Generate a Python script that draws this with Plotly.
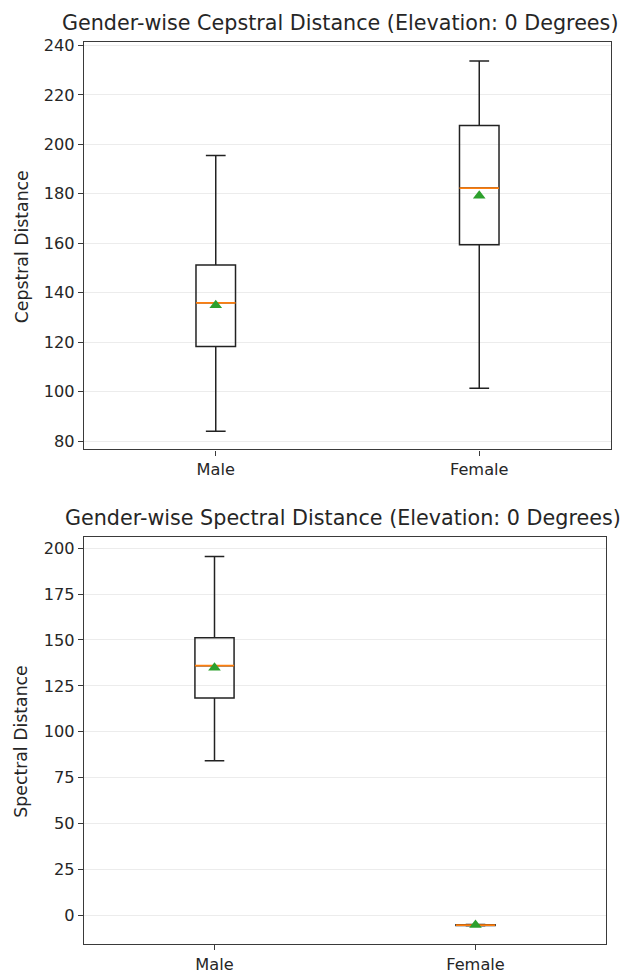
import plotly.graph_objects as go

genders = ["Male", "Female"]
positions = [1, 2]

# Cepstral distance (top)
cep_low = [84.0, 101.4]
cep_q1 = [118.2, 159.4]
cep_med = [135.9, 182.3]
cep_q3 = [151.2, 207.6]
cep_high = [195.5, 233.7]
cep_mean = [134.9, 179.2]

# Spectral distance (bottom)
spec_low = [84.2, -5.7]
spec_q1 = [118.4, -5.5]
spec_med = [136.0, -5.3]
spec_q3 = [151.2, -5.1]
spec_high = [195.4, -4.9]
spec_mean = [134.8, -5.3]

W, H = 633, 976
BOX_W = 0.15
FONT = "DejaVu Sans"
TXT = "#262626"
AX = "#3a3a3a"
TICK_SIZE = 16.2
LABEL_SIZE = 17.3
TITLE_SIZE = 20.7

fig = go.Figure()

panels = [
    dict(low=cep_low, q1=cep_q1, med=cep_med, q3=cep_q3, high=cep_high, mean=cep_mean,
         xa="x", ya="y"),
    dict(low=spec_low, q1=spec_q1, med=spec_med, q3=spec_q3, high=spec_high, mean=spec_mean,
         xa="x2", ya="y2"),
]

for p in panels:
    fig.add_trace(go.Box(
        x=positions, q1=p["q1"], median=p["med"], q3=p["q3"],
        lowerfence=p["low"], upperfence=p["high"],
        width=BOX_W, whiskerwidth=0.5, boxpoints=False,
        line=dict(color="#222222", width=1.5), fillcolor="rgba(0,0,0,0)",
        xaxis=p["xa"], yaxis=p["ya"], showlegend=False, hoverinfo="skip",
    ))
    mx, my = [], []
    for pos, m in zip(positions, p["med"]):
        mx += [pos - BOX_W / 2, pos + BOX_W / 2, None]
        my += [m, m, None]
    fig.add_trace(go.Scatter(
        x=mx, y=my, mode="lines", line=dict(color="#ff7f0e", width=1.8),
        xaxis=p["xa"], yaxis=p["ya"], showlegend=False, hoverinfo="skip",
    ))
    fig.add_trace(go.Scatter(
        x=positions, y=p["mean"], mode="markers",
        marker=dict(symbol="triangle-up", size=11, color="#2ca02c"),
        xaxis=p["xa"], yaxis=p["ya"], showlegend=False, hoverinfo="skip",
    ))

def px_x(v):
    return v / W

def px_y(v):
    return 1 - v / H

common_x = dict(range=[0.5, 2.5], tickvals=positions, ticktext=genders, showgrid=False,
                zeroline=False, showline=True, linecolor=AX, linewidth=1.3, mirror=True,
                ticks="outside", ticklen=5, tickcolor=AX,
                tickfont=dict(family=FONT, size=TICK_SIZE, color=TXT))
common_y = dict(showgrid=True, gridcolor="#ececec", gridwidth=1.2, zeroline=False,
                showline=True, linecolor=AX, linewidth=1.3, mirror=True,
                ticks="outside", ticklen=5, tickcolor=AX,
                tickfont=dict(family=FONT, size=TICK_SIZE, color=TXT))

fig.update_layout(
    width=W, height=H, margin=dict(l=0, r=0, t=0, b=0),
    paper_bgcolor="white", plot_bgcolor="white", boxmode="overlay",
    xaxis=dict(domain=[px_x(84), px_x(611)], anchor="y", **common_x),
    yaxis=dict(domain=[px_y(446.7), px_y(36.7)], anchor="x", range=[76.6, 241.2],
               tickvals=[80, 100, 120, 140, 160, 180, 200, 220, 240], **common_y),
    xaxis2=dict(domain=[px_x(84), px_x(606)], anchor="y2", **common_x),
    yaxis2=dict(domain=[px_y(945), px_y(535.3)], anchor="x2", range=[-15.7, 205.8],
                tickvals=[0, 25, 50, 75, 100, 125, 150, 175, 200], **common_y),
    annotations=[
        dict(text="Gender-wise Cepstral Distance (Elevation: 0 Degrees)", x=px_x(340), y=px_y(17),
             xref="paper", yref="paper", xanchor="center", yanchor="middle", showarrow=False,
             font=dict(family=FONT, size=TITLE_SIZE, color=TXT)),
        dict(text="Gender-wise Spectral Distance (Elevation: 0 Degrees)", x=px_x(343), y=px_y(516),
             xref="paper", yref="paper", xanchor="center", yanchor="middle", showarrow=False,
             font=dict(family=FONT, size=TITLE_SIZE, color=TXT)),
        dict(text="Cepstral Distance", x=px_x(21.5), y=px_y(242.5), textangle=-90,
             xref="paper", yref="paper", xanchor="center", yanchor="middle", showarrow=False,
             font=dict(family=FONT, size=LABEL_SIZE, color=TXT)),
        dict(text="Spectral Distance", x=px_x(21.5), y=px_y(741.5), textangle=-90,
             xref="paper", yref="paper", xanchor="center", yanchor="middle", showarrow=False,
             font=dict(family=FONT, size=LABEL_SIZE, color=TXT)),
    ],
)

fig.write_html("out.html")
